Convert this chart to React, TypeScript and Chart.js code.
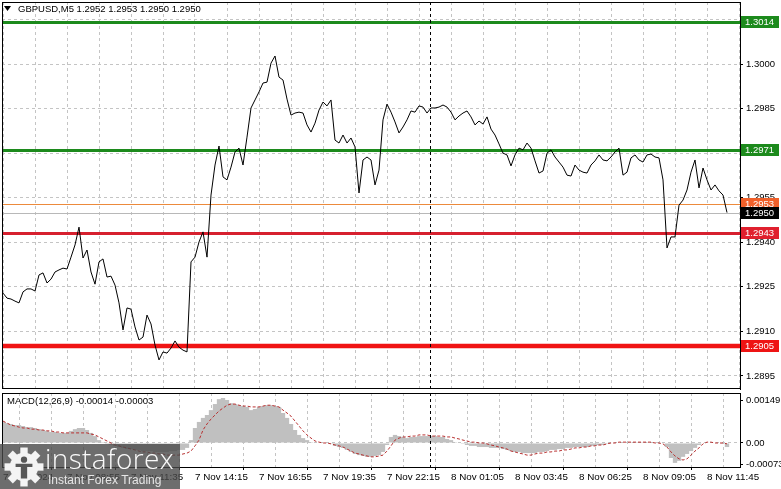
import React, { useEffect, useRef } from "react";
import { Chart, registerables } from "chart.js";
Chart.register(...registerables);

// ---- data (M5 closes sampled every 10 minutes) ----
const closes = [
  1.29229, 1.29212, 1.29209, 1.29202, 1.29196, 1.29233, 1.29243, 1.29243, 1.29236, 1.2929,
  1.29297, 1.29263, 1.29276, 1.293, 1.29307, 1.29313, 1.2931, 1.2935, 1.29391, 1.29451,
  1.29347, 1.29374, 1.293, 1.29259, 1.29334, 1.29344, 1.29283, 1.29286, 1.29256, 1.29196,
  1.29105, 1.29179, 1.29175, 1.29115, 1.29071, 1.29081, 1.29155, 1.29125, 1.29054, 1.29004,
  1.29031, 1.29027, 1.29044, 1.29068, 1.29047, 1.29037, 1.29031, 1.29334, 1.2935, 1.29401,
  1.29435, 1.2935, 1.29559, 1.2966, 1.29724, 1.2962, 1.2961, 1.29653, 1.29704, 1.29717,
  1.2966, 1.29754, 1.29852, 1.29879, 1.29906, 1.29936, 1.29939, 1.30003, 1.30027, 1.29956,
  1.29946, 1.29882, 1.29828, 1.29835, 1.29838, 1.29835, 1.29795, 1.29771, 1.29801, 1.29845,
  1.29872, 1.29859, 1.29879, 1.29744, 1.29734, 1.29761, 1.29734, 1.29751, 1.29721, 1.29566,
  1.29677, 1.29687, 1.29677, 1.29593, 1.29643, 1.29812, 1.29865, 1.29838, 1.29805, 1.29768,
  1.29788, 1.29812, 1.29842, 1.29838, 1.29859, 1.29855, 1.29835, 1.29852, 1.29852, 1.29855,
  1.29862, 1.29855, 1.29838, 1.29812, 1.29825, 1.29835, 1.29842, 1.29822, 1.29795, 1.29808,
  1.29798, 1.29822, 1.29781, 1.29761, 1.29731, 1.297, 1.29694, 1.29657, 1.29694, 1.29717,
  1.29711, 1.29734, 1.29717, 1.29674, 1.29633, 1.2964, 1.297, 1.29711, 1.29687, 1.2967,
  1.29653, 1.29626, 1.29623, 1.2966, 1.29643, 1.29636, 1.29633, 1.2966, 1.29674, 1.29694,
  1.29677, 1.29674, 1.29687, 1.29704, 1.29717, 1.29626, 1.29636, 1.29684, 1.29694, 1.29677,
  1.2967, 1.29694, 1.29697, 1.29687, 1.29684, 1.2961, 1.29381, 1.29418, 1.29418, 1.29525,
  1.29542, 1.29576, 1.29636, 1.29677, 1.29583, 1.2965, 1.2961, 1.29576, 1.29593, 1.29573,
  1.29559, 1.295,
];

const macdMain = [
  0.00073, 0.00069, 0.00066, 0.00062, 0.00062, 0.00059, 0.00055, 0.00055, 0.00052, 0.00048,
  0.00045, 0.00042, 0.00038, 0.00038, 0.00035, 0.00035, 0.00035, 0.00042, 0.00048, 0.00052,
  0.00052, 0.00045, 0.00035, 0.00024, 0.0001, 0.00003, -0.00003, -0.00007, -0.0001, -0.00014,
  -0.00017, -0.00021, -0.00021, -0.00024, -0.00024, -0.00028, -0.00028, -0.00028, -0.00031, -0.00031,
  -0.00031, -0.00031, -0.00028, -0.00028, -0.00024, -0.00024, -0.00017, 0.0001, 0.00052, 0.00073,
  0.00087, 0.00097, 0.00114, 0.00135, 0.00152, 0.00156, 0.00149, 0.00138, 0.00135, 0.00131,
  0.00128, 0.00125, 0.00114, 0.00118, 0.00125, 0.00128, 0.00131, 0.00131, 0.00128, 0.00125,
  0.00104, 0.00087, 0.00066, 0.00045, 0.00028, 0.00017, 0.0001, 0.00003, 0, 0,
  0, 0, -0.00003, -0.0001, -0.00014, -0.00017, -0.00024, -0.00031, -0.00038, -0.00042,
  -0.00045, -0.00048, -0.00048, -0.00045, -0.00042, -0.00031, -0.00007, 0.00021, 0.00028, 0.00024,
  0.00021, 0.00017, 0.00021, 0.00021, 0.00024, 0.00024, 0.00024, 0.00024, 0.00024, 0.00021,
  0.00021, 0.00014, 0.0001, 0.00003, 0, -0.00003, -0.00007, -0.0001, -0.0001, -0.00014,
  -0.00014, -0.00014, -0.00017, -0.00017, -0.00017, -0.00021, -0.00024, -0.00028, -0.00031, -0.00031,
  -0.00035, -0.00035, -0.00035, -0.00035, -0.00031, -0.00031, -0.00028, -0.00024, -0.00024, -0.00021,
  -0.00021, -0.00017, -0.00017, -0.00014, -0.00014, -0.00014, -0.00014, -0.0001, -0.0001, -0.00007,
  -0.00007, -0.00003, 0, 0, 0, 0, 0, 0.00003, 0.00003, 0.00003,
  0.00003, 0.00003, 0, 0, 0, 0, -0.00014, -0.00052, -0.00069, -0.00062,
  -0.00048, -0.00038, -0.00028, -0.00017, -0.00007, 0, 0, 0, 0, 0,
  -0.00003, -0.00014,
];

const macdSignal = [
  0.00076, 0.00069, 0.00062, 0.00059, 0.00055, 0.00052, 0.00052, 0.00048, 0.00048, 0.00045,
  0.00045, 0.00042, 0.00042, 0.00038, 0.00038, 0.00035, 0.00035, 0.00035, 0.00035, 0.00035,
  0.00035, 0.00035, 0.00031, 0.00028, 0.00021, 0.00014, 0.00007, 0, -0.00007, -0.0001,
  -0.00014, -0.00017, -0.00021, -0.00024, -0.00028, -0.00031, -0.00031, -0.00035, -0.00035, -0.00038,
  -0.00038, -0.00042, -0.00042, -0.00042, -0.00042, -0.00038, -0.00035, -0.00028, -0.0001, 0.0001,
  0.00045, 0.00066, 0.00083, 0.00097, 0.00111, 0.00121, 0.00131, 0.00135, 0.00135, 0.00131,
  0.00128, 0.00128, 0.00125, 0.00125, 0.00125, 0.00128, 0.00131, 0.00131, 0.00128, 0.00125,
  0.00114, 0.00104, 0.00093, 0.00076, 0.00059, 0.00042, 0.00028, 0.00017, 0.00007, 0.00003,
  0, 0, -0.00003, -0.00007, -0.0001, -0.00014, -0.00021, -0.00028, -0.00035, -0.00038,
  -0.00042, -0.00045, -0.00048, -0.00048, -0.00045, -0.00042, -0.00028, -0.0001, 0.0001, 0.00017,
  0.00021, 0.00021, 0.00024, 0.00024, 0.00028, 0.00028, 0.00028, 0.00024, 0.00024, 0.00024,
  0.00024, 0.00021, 0.00021, 0.00017, 0.00014, 0.0001, 0.00007, 0.00003, 0.00003, 0,
  0, -0.00003, -0.00007, -0.0001, -0.00014, -0.00017, -0.00021, -0.00028, -0.00031, -0.00035,
  -0.00038, -0.00042, -0.00042, -0.00038, -0.00035, -0.00035, -0.00031, -0.00031, -0.00028, -0.00028,
  -0.00024, -0.00024, -0.00021, -0.00017, -0.00017, -0.00014, -0.00014, -0.0001, -0.0001, -0.00007,
  -0.00007, -0.00003, 0, 0, 0.00003, 0.00003, 0.00003, 0.00003, 0.00003, 0.00003,
  0.00003, 0.00003, 0.00003, 0, 0, -0.00003, -0.00014, -0.00031, -0.00045, -0.00055,
  -0.00059, -0.00055, -0.00042, -0.00028, -0.00017, -0.00003, 0.00003, 0.00003, 0, 0,
  0, -0.00003,
];

// time axis: one label every 16 samples (2h40m), a grid line every 8 samples
const timeLabels = [
  "7 Nov 2024", "7 Nov 08:55", "7 Nov 11:35", "7 Nov 14:15", "7 Nov 16:55", "7 Nov 19:35",
  "7 Nov 22:15", "8 Nov 01:05", "8 Nov 03:45", "8 Nov 06:25", "8 Nov 09:05", "8 Nov 11:45",
];
const labelEvery = 16;
const gridEvery = 8;
const daySeparator = 106.75; // 8 Nov 00:00 in sample units

const priceTicks = [1.2895, 1.291, 1.2925, 1.294, 1.2955, 1.297, 1.2985, 1.3, 1.3015];
const macdTicks = [-0.00073, 0, 0.00149];

const levelPrices = [1.3014, 1.2971, 1.2943, 1.2905];
const askPrice = 1.2953;
const bidPrice = 1.295;

const titleText = "GBPUSD,M5 1.2952 1.2953 1.2950 1.2950";
const macdText = "MACD(12,26,9) -0.00014 -0.00003";

// ---- styling ----
const FONT = "'Liberation Sans', Arial, sans-serif";
const GRID = "#c4c4c4";
const levelStyles = [
  { color: "#1c8a1c", width: 3 },
  { color: "#1c8a1c", width: 3 },
  { color: "#d6202e", width: 3 },
  { color: "#f01414", width: 4.5 },
];

const X_MIN = -0.25;
const X_MAX = 184.25;

export default function App() {
  const mainRef = useRef<HTMLCanvasElement | null>(null);
  const macdRef = useRef<HTMLCanvasElement | null>(null);

  useEffect(() => {
    const gridIdx: number[] = [];
    for (let v = 0; v <= 184; v += gridEvery) gridIdx.push(v);

    const drawBox = (ctx: CanvasRenderingContext2D, x: number, y: number, bg: string, text: string) => {
      ctx.fillStyle = bg;
      ctx.fillRect(x, Math.round(y) - 6, 38, 12);
      ctx.fillStyle = "#fff";
      ctx.font = `9.5px ${FONT}`;
      ctx.textBaseline = "middle";
      ctx.textAlign = "left";
      ctx.fillText(text, x + 4, Math.round(y) + 0.5);
    };

    const hline = (ctx: CanvasRenderingContext2D, l: number, r: number, y: number, color: string, w: number) => {
      ctx.beginPath();
      ctx.strokeStyle = color;
      ctx.lineWidth = w;
      const yy = w % 2 === 1 ? Math.round(y) + 0.5 : Math.round(y);
      ctx.moveTo(l, yy);
      ctx.lineTo(r, yy);
      ctx.stroke();
    };

    const mainOverlay = {
      id: "mainOverlay",
      beforeDatasetsDraw(chart: any) {
        const { ctx, chartArea, scales } = chart;
        const { left, right } = chartArea;
        ctx.save();
        hline(ctx, left, right, scales.y.getPixelForValue(bidPrice), "#b8b8b8", 1);
        hline(ctx, left, right, scales.y.getPixelForValue(askPrice), "#ec8a3c", 1);
        levelPrices.forEach((p, i) => {
          hline(ctx, left, right, scales.y.getPixelForValue(p), levelStyles[i].color, levelStyles[i].width);
        });
        ctx.restore();
      },
      afterDatasetsDraw(chart: any) {
        const { ctx, chartArea, scales } = chart;
        const { left, right, top, bottom } = chartArea;
        ctx.save();
        const sx = Math.round(scales.x.getPixelForValue(daySeparator)) + 0.5;
        ctx.strokeStyle = "#000";
        ctx.lineWidth = 1;
        ctx.setLineDash([3, 3]);
        ctx.beginPath();
        ctx.moveTo(sx, top);
        ctx.lineTo(sx, bottom);
        ctx.stroke();
        ctx.setLineDash([]);
        ctx.beginPath();
        ctx.moveTo(left + 0.5, top);
        ctx.lineTo(left + 0.5, bottom);
        ctx.moveTo(left, top + 0.5);
        ctx.lineTo(right, top + 0.5);
        ctx.moveTo(left, bottom - 0.5);
        ctx.lineTo(right, bottom - 0.5);
        ctx.stroke();
        ctx.restore();
      },
      afterDraw(chart: any) {
        const { ctx, chartArea, scales } = chart;
        const bx = chartArea.right + 1;
        ctx.save();
        drawBox(ctx, bx, scales.y.getPixelForValue(levelPrices[0]), "#1c8a1c", levelPrices[0].toFixed(4));
        drawBox(ctx, bx, scales.y.getPixelForValue(levelPrices[1]), "#1c8a1c", levelPrices[1].toFixed(4));
        drawBox(ctx, bx, scales.y.getPixelForValue(askPrice), "#f0602a", askPrice.toFixed(4));
        drawBox(ctx, bx, scales.y.getPixelForValue(bidPrice), "#000000", bidPrice.toFixed(4));
        drawBox(ctx, bx, scales.y.getPixelForValue(levelPrices[2]), "#e0202e", levelPrices[2].toFixed(4));
        drawBox(ctx, bx, scales.y.getPixelForValue(levelPrices[3]), "#ee1414", levelPrices[3].toFixed(4));
        ctx.restore();
      },
    };

    const macdOverlay = {
      id: "macdOverlay",
      afterDatasetsDraw(chart: any) {
        const { ctx, chartArea, scales } = chart;
        const { left, right, top, bottom } = chartArea;
        ctx.save();
        const sx = Math.round(scales.x.getPixelForValue(daySeparator)) + 0.5;
        ctx.strokeStyle = "#000";
        ctx.lineWidth = 1;
        ctx.setLineDash([3, 3]);
        ctx.beginPath();
        ctx.moveTo(sx, top);
        ctx.lineTo(sx, bottom);
        ctx.stroke();
        ctx.setLineDash([]);
        ctx.beginPath();
        ctx.moveTo(left + 0.5, top);
        ctx.lineTo(left + 0.5, bottom);
        ctx.moveTo(left, top + 0.5);
        ctx.lineTo(right, top + 0.5);
        ctx.stroke();
        ctx.restore();
      },
    };

    const main = new Chart(mainRef.current as HTMLCanvasElement, {
      type: "line",
      data: {
        datasets: [
          {
            data: closes.map((v, i) => ({ x: i, y: v })),
            borderColor: "#000",
            borderWidth: 1,
            pointRadius: 0,
            tension: 0,
            fill: false,
          },
        ],
      },
      options: {
        animation: false,
        responsive: false,
        devicePixelRatio: 1,
        events: [],
        layout: { padding: { left: 2, top: 2, right: 0, bottom: 1 } },
        plugins: { legend: { display: false }, tooltip: { enabled: false } },
        scales: {
          x: {
            type: "linear",
            min: X_MIN,
            max: X_MAX,
            bounds: "data",
            afterBuildTicks: (s: any) => {
              s.ticks = gridIdx.map((v) => ({ value: v }));
            },
            afterFit: (s: any) => {
              s.height = 0;
              s.paddingLeft = 0;
              s.paddingRight = 0;
            },
            ticks: { display: false },
            grid: { color: GRID, drawTicks: false },
            border: { display: false, dash: [3, 3] },
          },
          y: {
            type: "linear",
            position: "right",
            min: 1.289062,
            max: 1.302087,
            bounds: "data",
            afterBuildTicks: (s: any) => {
              s.ticks = priceTicks.map((v) => ({ value: v }));
            },
            afterFit: (s: any) => {
              s.width = 41;
              s.paddingTop = 0;
              s.paddingBottom = 0;
            },
            ticks: {
              callback: (v: any) => Number(v).toFixed(4),
              font: { family: FONT, size: 9.5 },
              color: "#000",
              padding: 3,
            },
            grid: { color: GRID, drawTicks: true, tickLength: 3, tickColor: "#000" },
            border: { display: true, color: "#000", dash: [3, 3] },
          },
        },
      } as any,
      plugins: [mainOverlay],
    });

    const macd = new Chart(macdRef.current as HTMLCanvasElement, {
      type: "bar",
      data: {
        datasets: [
          {
            type: "line",
            data: macdSignal.map((v, i) => ({ x: i, y: v })),
            borderColor: "#b83030",
            borderWidth: 1,
            borderDash: [3, 2],
            pointRadius: 0,
            tension: 0,
            fill: false,
            order: 0,
          } as any,
          {
            type: "bar",
            data: macdMain.map((v, i) => ({ x: i, y: v })),
            backgroundColor: "#c0c0c0",
            borderWidth: 0,
            barPercentage: 1.08,
            categoryPercentage: 1,
            order: 1,
          } as any,
        ],
      },
      options: {
        animation: false,
        responsive: false,
        devicePixelRatio: 1,
        events: [],
        layout: { padding: { left: 2, top: 3, right: 0, bottom: 0 } },
        plugins: { legend: { display: false }, tooltip: { enabled: false } },
        scales: {
          x: {
            type: "linear",
            min: X_MIN,
            max: X_MAX,
            bounds: "data",
            offset: false,
            afterBuildTicks: (s: any) => {
              s.ticks = gridIdx.map((v) => ({ value: v }));
            },
            afterFit: (s: any) => {
              s.height = 22;
              s.paddingLeft = 0;
              s.paddingRight = 0;
            },
            ticks: {
              autoSkip: false,
              maxRotation: 0,
              minRotation: 0,
              align: "start",
              padding: 1,
              font: { family: FONT, size: 9.8 },
              color: "#000",
              callback: (v: any) => {
                const n = Number(v);
                return n % labelEvery === 0 ? timeLabels[n / labelEvery] : "";
              },
            },
            grid: {
              color: GRID,
              drawTicks: true,
              tickLength: 3,
              tickColor: (c: any) =>
                c.tick && c.tick.value % labelEvery === 0 ? "#000" : "rgba(0,0,0,0)",
            },
            border: { display: true, color: "#000", dash: [3, 3] },
          },
          y: {
            type: "linear",
            position: "right",
            min: -0.000832,
            max: 0.001733,
            bounds: "data",
            afterBuildTicks: (s: any) => {
              s.ticks = macdTicks.map((v) => ({ value: v }));
            },
            afterFit: (s: any) => {
              s.width = 41;
              s.paddingTop = 0;
              s.paddingBottom = 0;
            },
            ticks: {
              callback: (v: any) => (Number(v) === 0 ? "0.00" : Number(v).toFixed(5)),
              font: { family: FONT, size: 9.5 },
              color: "#000",
              padding: 3,
            },
            grid: {
              color: (c: any) => (c.tick && c.tick.value === 0 ? GRID : "rgba(0,0,0,0)"),
              drawTicks: true,
              tickLength: 3,
              tickColor: "#000",
            },
            border: { display: true, color: "#000", dash: [3, 3] },
          },
        },
      } as any,
      plugins: [macdOverlay],
    });

    return () => {
      main.destroy();
      macd.destroy();
    };
  }, []);

  return (
    <div
      style={{
        position: "fixed",
        left: 0,
        top: 0,
        width: 781,
        height: 489,
        background: "#fff",
        overflow: "hidden",
        fontFamily: FONT,
      }}
    >
      <canvas
        ref={mainRef}
        width={781}
        height={390}
        style={{ position: "absolute", left: 0, top: 0, width: 781, height: 390 }}
      />
      <canvas
        ref={macdRef}
        width={781}
        height={99}
        style={{ position: "absolute", left: 0, top: 390, width: 781, height: 99 }}
      />
      <svg style={{ position: "absolute", left: 4, top: 6 }} width={8} height={6}>
        <polygon points="0,0 7,0 3.5,5" fill="#000" />
      </svg>
      <div
        style={{
          position: "absolute",
          left: 18,
          top: 3,
          fontSize: 9.5,
          lineHeight: "12px",
          color: "#000",
          whiteSpace: "pre",
        }}
      >
        {titleText}
      </div>
      <div
        style={{
          position: "absolute",
          left: 7,
          top: 395,
          fontSize: 9.5,
          lineHeight: "12px",
          color: "#000",
          whiteSpace: "pre",
        }}
      >
        {macdText}
      </div>
      <div
        style={{
          position: "absolute",
          left: 0,
          top: 444,
          width: 180,
          height: 45,
          background: "rgba(72,72,72,0.8)",
        }}
      >
        <svg style={{ position: "absolute", left: 4, top: 3 }} width={40} height={40} viewBox="0 0 38 38">
          <g transform="translate(19,19)" fill="#f4f4f4">
            {[0, 45, 90, 135, 180, 225, 270, 315].map((a) => (
              <rect key={a} x={-3.5} y={-18.5} width={7} height={8} transform={`rotate(${a})`} />
            ))}
            <circle r={13.5} />
          </g>
          <g fill="#585858">
            <circle cx={19} cy={12} r={3} />
            <path d="M11 16 L27 16 L27 19 L22 19 L22 30 L16 30 L16 19 L11 19 Z" />
          </g>
        </svg>
        <div
          style={{
            position: "absolute",
            left: 45,
            top: -5,
            fontFamily: "'Open Sans', sans-serif",
            fontWeight: 300,
            fontSize: 28,
            letterSpacing: 0.4,
            color: "#fafafa",
            whiteSpace: "pre",
          }}
        >
          instaforex
        </div>
        <div
          style={{
            position: "absolute",
            left: 48,
            top: 29,
            fontFamily: "'Liberation Sans Narrow', 'Liberation Sans', sans-serif",
            fontSize: 12,
            color: "#e6e6e6",
            whiteSpace: "pre",
          }}
        >
          Instant Forex Trading
        </div>
      </div>
    </div>
  );
}
